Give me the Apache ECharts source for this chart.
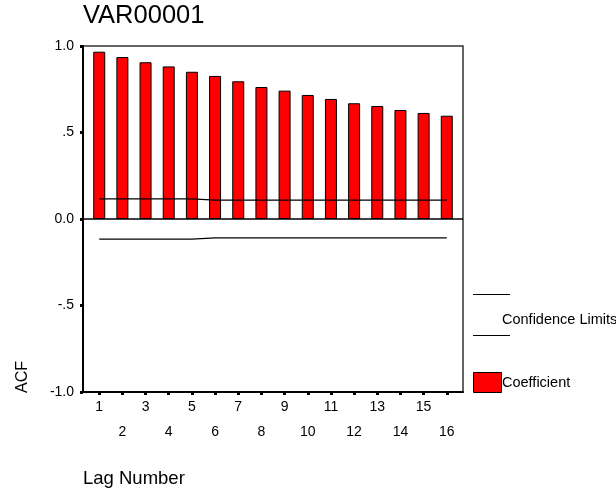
<!DOCTYPE html>
<html>
<head>
<meta charset="utf-8">
<script src="https://cdn.jsdelivr.net/npm/echarts@6/dist/echarts.min.js"></script>
<style>
  html, body { margin: 0; padding: 0; background: #fff; }
  #chart { width: 616px; height: 494px; }
</style>
</head>
<body>
<div id="chart"></div>
<script>
// Autocorrelation of VAR00001, lags 1..16
const lags = [1, 2, 3, 4, 5, 6, 7, 8, 9, 10, 11, 12, 13, 14, 15, 16];
const acf = [0.967, 0.936, 0.906, 0.882, 0.851, 0.827, 0.796, 0.763,
             0.742, 0.717, 0.694, 0.669, 0.653, 0.630, 0.613, 0.597];
const upperLimit = [0.116, 0.116, 0.116, 0.116, 0.116, 0.109, 0.109, 0.109,
                    0.109, 0.109, 0.109, 0.109, 0.109, 0.109, 0.109, 0.109];
const lowerLimit = [-0.116, -0.116, -0.116, -0.116, -0.116, -0.109, -0.109, -0.109,
                    -0.109, -0.109, -0.109, -0.109, -0.109, -0.109, -0.109, -0.109];
const yTicks = [-1, -0.5, 0, 0.5, 1];
const yTickLabels = ['-1.0', '-.5', '0.0', '.5', '1.0'];

const FONT = '"Liberation Sans", Arial, sans-serif';

const chart = echarts.init(document.getElementById('chart'), null, { renderer: 'canvas' });

const pair = (xs, ys) => xs.map((x, i) => [x, ys[i]]);

chart.setOption({
  backgroundColor: '#fff',
  animation: false,
  title: {
    text: 'VAR00001',
    left: 78,
    top: -2,
    textStyle: { fontFamily: FONT, fontSize: 25.5, fontWeight: 'normal', color: '#000' }
  },
  grid: {
    left: 83, top: 46, right: 153, bottom: 102,
    show: true,
    borderColor: '#333',
    borderWidth: 1.5,
    backgroundColor: '#fff'
  },
  xAxis: {
    type: 'value',
    min: 0.3,
    max: 16.7,
    axisLine: { show: true, onZero: false, lineStyle: { color: '#000', width: 2 } },
    axisTick: {
      show: true, length: 3, customValues: lags,
      lineStyle: { color: '#000', width: 3 }
    },
    axisLabel: {
      customValues: lags,
      margin: 3,
      lineHeight: 25,
      fontFamily: FONT, fontSize: 14, color: '#000',
      formatter: v => (v % 2 === 0 ? '\n' + v : String(v))
    },
    splitLine: { show: false }
  },
  yAxis: {
    type: 'value',
    min: -1,
    max: 1,
    interval: 0.5,
    axisLine: { show: true, lineStyle: { color: '#000', width: 2 } },
    axisTick: { show: true, length: 3, lineStyle: { color: '#000', width: 3 } },
    axisLabel: {
      margin: 9,
      fontFamily: FONT, fontSize: 14, color: '#000',
      formatter: v => {
        const i = yTicks.findIndex(t => Math.abs(t - v) < 1e-9);
        return i >= 0 ? yTickLabels[i] : '';
      }
    },
    splitLine: { show: false }
  },
  series: [
    {
      name: 'Coefficient',
      type: 'bar',
      data: pair(lags, acf),
      barWidth: 12,
      itemStyle: { color: '#ff0000', borderColor: '#000', borderWidth: 1 },
      markLine: {
        silent: true,
        symbol: ['none', 'none'],
        label: { show: false },
        lineStyle: { color: '#000', width: 1.5, type: 'solid' },
        data: [{ yAxis: 0 }]
      },
      z: 2
    },
    {
      name: 'Upper',
      type: 'line',
      data: pair(lags, upperLimit),
      showSymbol: false,
      lineStyle: { color: '#000', width: 1.2 },
      z: 3
    },
    {
      name: 'Lower',
      type: 'line',
      data: pair(lags, lowerLimit),
      showSymbol: false,
      lineStyle: { color: '#000', width: 1.2 },
      z: 3
    }
  ],
  graphic: [
    // axis titles
    {
      type: 'text', x: 83, y: 479,
      style: { text: 'Lag Number', font: '18.5px ' + FONT, fill: '#000', verticalAlign: 'middle' }
    },
    {
      type: 'text', x: 23, y: 377, rotation: Math.PI / 2,
      style: { text: 'ACF', font: '16px ' + FONT, fill: '#000', align: 'center', verticalAlign: 'middle' }
    },
    // legend: confidence limits
    {
      type: 'line', shape: { x1: 473, y1: 294.5, x2: 510, y2: 294.5 },
      style: { stroke: '#000', lineWidth: 1.2 }
    },
    {
      type: 'line', shape: { x1: 473, y1: 335.5, x2: 510, y2: 335.5 },
      style: { stroke: '#000', lineWidth: 1.2 }
    },
    {
      type: 'text', x: 502, y: 320,
      style: { text: 'Confidence Limits', font: '14.5px ' + FONT, fill: '#000', verticalAlign: 'middle' }
    },
    // legend: coefficient
    {
      type: 'rect', shape: { x: 473.5, y: 372.5, width: 28, height: 20 },
      style: { fill: '#ff0000', stroke: '#000', lineWidth: 1 }
    },
    {
      type: 'text', x: 502, y: 383,
      style: { text: 'Coefficient', font: '14.5px ' + FONT, fill: '#000', verticalAlign: 'middle' }
    }
  ]
});
</script>
</body>
</html>
